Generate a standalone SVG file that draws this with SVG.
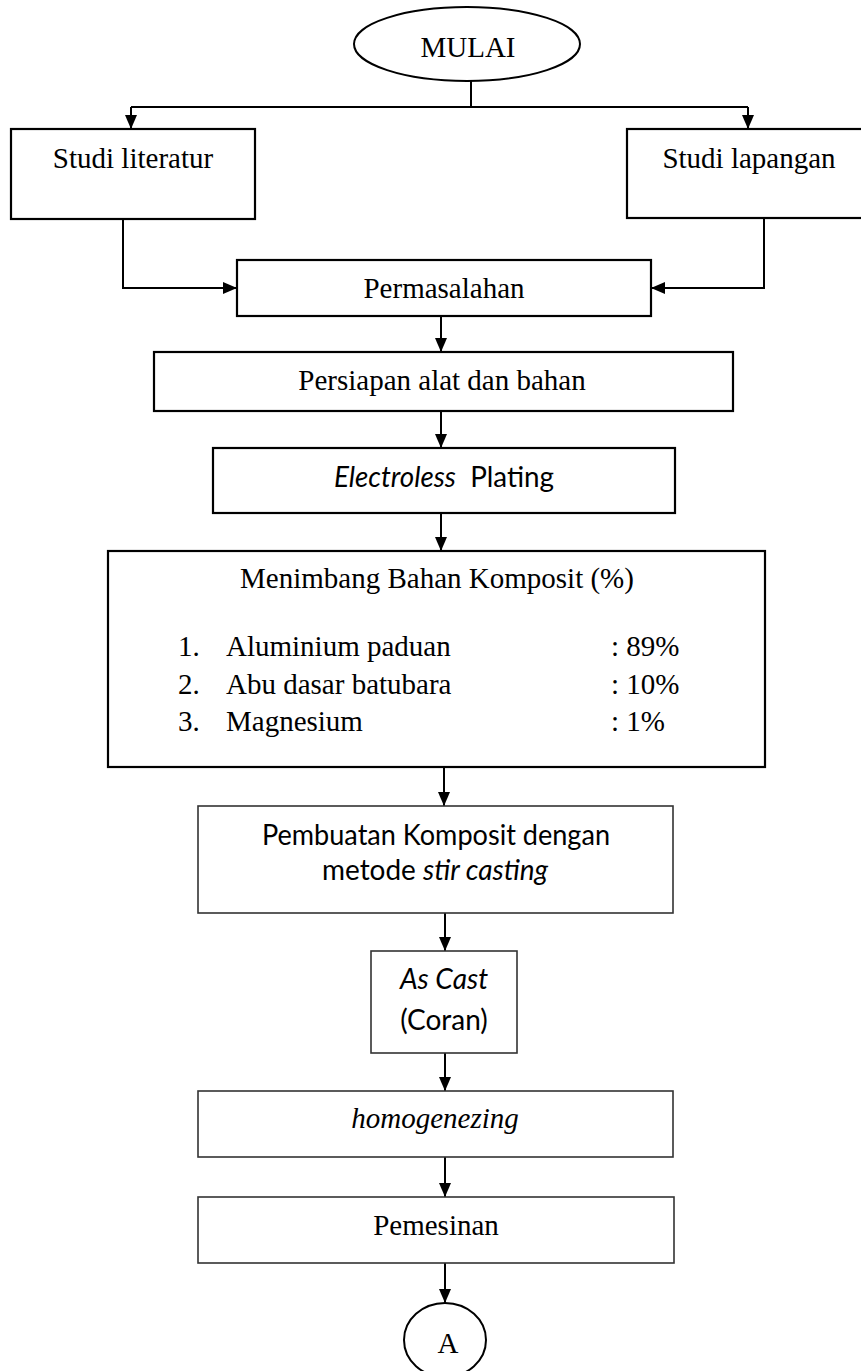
<svg xmlns="http://www.w3.org/2000/svg" width="861" height="1371" viewBox="0 0 861 1371">
<defs>
<style>
.b{fill:#fff;stroke:#000;stroke-width:2.2}
.g{fill:#fff;stroke:#333;stroke-width:1.6}
.t{font-family:"Liberation Serif","Times New Roman",serif;font-size:29px;fill:#000}
.s{font-family:Lato,"Noto Sans",sans-serif;font-size:28px;fill:#000}
.c{fill:none;stroke:#000;stroke-width:2}
</style>
<marker id="ah" markerUnits="userSpaceOnUse" markerWidth="14" markerHeight="12" refX="14" refY="6" orient="auto">
<path d="M0,0 L14,6 L0,12 z" fill="#000"/>
</marker>
</defs>
<rect width="861" height="1371" fill="#fff"/>
<g id="connectors">
<path class="c" d="M471,81 V107"/>
<path class="c" d="M131,107 H748"/>
<path class="c" d="M131,107 V129" marker-end="url(#ah)"/>
<path class="c" d="M748,107 V129" marker-end="url(#ah)"/>
<path class="c" d="M123,219 V288 H237" marker-end="url(#ah)"/>
<path class="c" d="M764,218 V288 H651" marker-end="url(#ah)"/>
<path class="c" d="M441,316 V352" marker-end="url(#ah)"/>
<path class="c" d="M441,411 V448" marker-end="url(#ah)"/>
<path class="c" d="M441,513 V551" marker-end="url(#ah)"/>
<path class="c" d="M444,767 V806" marker-end="url(#ah)"/>
<path class="c" d="M445,913 V951" marker-end="url(#ah)"/>
<path class="c" d="M445,1053 V1091" marker-end="url(#ah)"/>
<path class="c" d="M445,1157 V1197" marker-end="url(#ah)"/>
<path class="c" d="M445,1263 V1303" marker-end="url(#ah)"/>
</g>
<g id="mulai">
<ellipse cx="467" cy="44" rx="113" ry="37" fill="#fff" stroke="#000" stroke-width="2"/>
<text class="t" x="468" y="57" text-anchor="middle">MULAI</text>
</g>
<g id="studi-literatur">
<rect class="b" x="11" y="129" width="244" height="90"/>
<text class="t" x="133" y="168" text-anchor="middle">Studi literatur</text>
</g>
<g id="studi-lapangan">
<rect class="b" x="627" y="129" width="240" height="89"/>
<text class="t" x="749" y="168" text-anchor="middle">Studi lapangan</text>
</g>
<g id="permasalahan">
<rect class="b" x="237" y="260" width="414" height="56"/>
<text class="t" x="444" y="298" text-anchor="middle">Permasalahan</text>
</g>
<g id="persiapan">
<rect class="b" x="154" y="352" width="579" height="59"/>
<text class="t" x="442" y="390" text-anchor="middle">Persiapan alat dan bahan</text>
</g>
<g id="electroless">
<rect class="b" x="213" y="448" width="462" height="65"/>
<text class="s" x="444" y="487" text-anchor="middle" textLength="220" lengthAdjust="spacingAndGlyphs" xml:space="preserve"><tspan font-style="italic">Electroless</tspan>  Plating</text>
</g>
<g id="menimbang">
<rect class="b" x="108" y="551" width="657" height="216"/>
<text class="t" x="437" y="588" text-anchor="middle">Menimbang Bahan Komposit (%)</text>
<text class="t" x="178" y="656">1.</text>
<text class="t" x="226" y="656">Aluminium paduan</text>
<text class="t" x="611" y="656">: 89%</text>
<text class="t" x="178" y="694">2.</text>
<text class="t" x="226" y="694">Abu dasar batubara</text>
<text class="t" x="611" y="694">: 10%</text>
<text class="t" x="178" y="731">3.</text>
<text class="t" x="226" y="731">Magnesium</text>
<text class="t" x="611" y="731">: 1%</text>
</g>
<g id="pembuatan">
<rect class="g" x="198" y="806" width="475" height="107"/>
<text class="s" x="436" y="845" text-anchor="middle" textLength="348" lengthAdjust="spacingAndGlyphs">Pembuatan Komposit dengan</text>
<text class="s" x="435" y="880" text-anchor="middle" textLength="226" lengthAdjust="spacingAndGlyphs">metode <tspan font-style="italic">stir casting</tspan></text>
</g>
<g id="as-cast">
<rect class="g" x="371" y="951" width="146" height="102"/>
<text class="s" x="444" y="989" text-anchor="middle" font-style="italic">As Cast</text>
<text class="s" x="444" y="1030" text-anchor="middle">(Coran)</text>
</g>
<g id="homogenezing">
<rect class="g" x="198" y="1091" width="475" height="66"/>
<text class="t" x="435" y="1128" text-anchor="middle" font-style="italic">homogenezing</text>
</g>
<g id="pemesinan">
<rect class="g" x="198" y="1197" width="476" height="66"/>
<text class="t" x="436" y="1235" text-anchor="middle">Pemesinan</text>
</g>
<g id="a">
<ellipse cx="445" cy="1340" rx="41" ry="37" fill="#fff" stroke="#000" stroke-width="2"/>
<text class="t" x="448" y="1353" text-anchor="middle" font-size="27">A</text>
</g>
</svg>
